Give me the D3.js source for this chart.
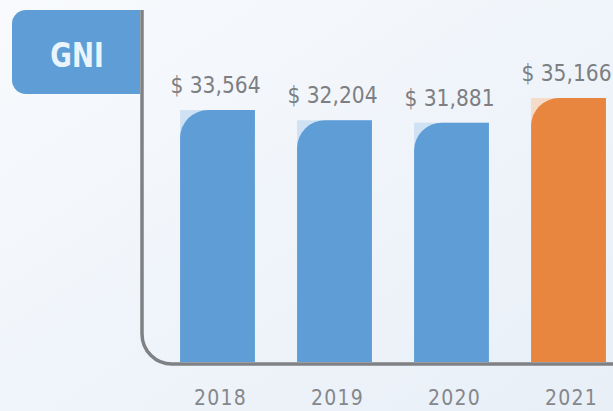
<!DOCTYPE html>
<html>
<head>
<meta charset="utf-8">
<script src="https://cdn.jsdelivr.net/npm/d3@7/dist/d3.min.js"></script>
<style>
  html, body { margin: 0; padding: 0; background: #f1f5fa; }
  svg { display: block; }
</style>
</head>
<body>
<svg id="chart" width="613" height="411"></svg>
<script>
// GNI per year
const years = ["2018", "2019", "2020", "2021"];
const gni = [33564, 32204, 31881, 35166];
const highlightYear = "2021";
const title = "GNI";

const W = 613, H = 411;
const FONT = "'DejaVu Sans Condensed', 'Liberation Sans', sans-serif";
const svg = d3.select("#chart");

// soft background wash
const defs = svg.append("defs");
const bg = defs.append("linearGradient").attr("id", "bg")
  .attr("x1", "0").attr("y1", "0").attr("x2", "1").attr("y2", "1");
bg.append("stop").attr("offset", "0%").attr("stop-color", "#f8fafd");
bg.append("stop").attr("offset", "100%").attr("stop-color", "#e8eff7");
svg.append("rect").attr("width", W).attr("height", H).attr("fill", "url(#bg)");

const baseY = 362;
const x = d3.scaleBand().domain(years).range([159, 627])
  .paddingInner(0.36).paddingOuter(0.18);
const y = d3.scaleLinear().domain([0, 35166]).range([baseY, 98]);

const data = years.map((yr, i) => ({ year: yr, value: gni[i] }));
const r = 28;
const fill = d => d.year === highlightYear ? "#e8853f" : "#5f9dd6";
const tint = d => d.year === highlightYear ? "#f5dcc8" : "#cfe2f4";

const bars = svg.append("g").selectAll("g").data(data).join("g");

// pale block under the rounded corner
bars.append("rect")
  .attr("x", d => x(d.year))
  .attr("y", d => y(d.value))
  .attr("width", x.bandwidth())
  .attr("height", r)
  .attr("fill", tint);

// bar with rounded top-left corner
bars.append("path")
  .attr("fill", fill)
  .attr("d", d => {
    const x0 = x(d.year), x1 = x0 + x.bandwidth(), y0 = y(d.value);
    return `M${x0},${baseY} L${x0},${y0 + r} A${r},${r} 0 0 1 ${x0 + r},${y0} L${x1},${y0} L${x1},${baseY} Z`;
  });

// value labels
bars.append("text")
  .attr("x", d => x(d.year) + x.bandwidth() / 2 - 2)
  .attr("y", d => y(d.value) - 17)
  .attr("text-anchor", "middle")
  .attr("font-family", FONT)
  .attr("font-size", 22.5)
  .attr("fill", "#7d7f83")
  .text(d => "$ " + d3.format(",")(d.value));

// axis: vertical rule turning into the baseline with a rounded corner
const axX = 142, axY = 364, ar = 30;
svg.append("path")
  .attr("fill", "none")
  .attr("stroke", "#7f8184")
  .attr("stroke-width", 3.5)
  .attr("d", `M${axX},10 L${axX},${axY - ar} A${ar},${ar} 0 0 0 ${axX + ar},${axY} L${W + 5},${axY}`);

// year labels
svg.append("g").selectAll("text").data(years).join("text")
  .attr("x", d => x(d) + x.bandwidth() / 2 + 3)
  .attr("y", 405)
  .attr("text-anchor", "middle")
  .attr("font-family", FONT)
  .attr("font-size", 21)
  .attr("letter-spacing", 1.2)
  .attr("fill", "#85878b")
  .text(d => d);

// title tag
const tx0 = 12, tx1 = 140, ty0 = 10, ty1 = 94, tr = 14;
svg.append("path")
  .attr("fill", "#5f9dd6")
  .attr("d", `M${tx1},${ty0} L${tx1},${ty1} L${tx0 + tr},${ty1} A${tr},${tr} 0 0 1 ${tx0},${ty1 - tr} L${tx0},${ty0 + tr} A${tr},${tr} 0 0 1 ${tx0 + tr},${ty0} Z`);
svg.append("text")
  .attr("transform", `translate(${(tx0 + tx1) / 2 + 1},67) scale(0.86,1)`)
  .attr("text-anchor", "middle")
  .attr("font-family", FONT)
  .attr("font-weight", "bold")
  .attr("font-size", 34)
  .attr("fill", "#eaf4fc")
  .text(title);
</script>
</body>
</html>
